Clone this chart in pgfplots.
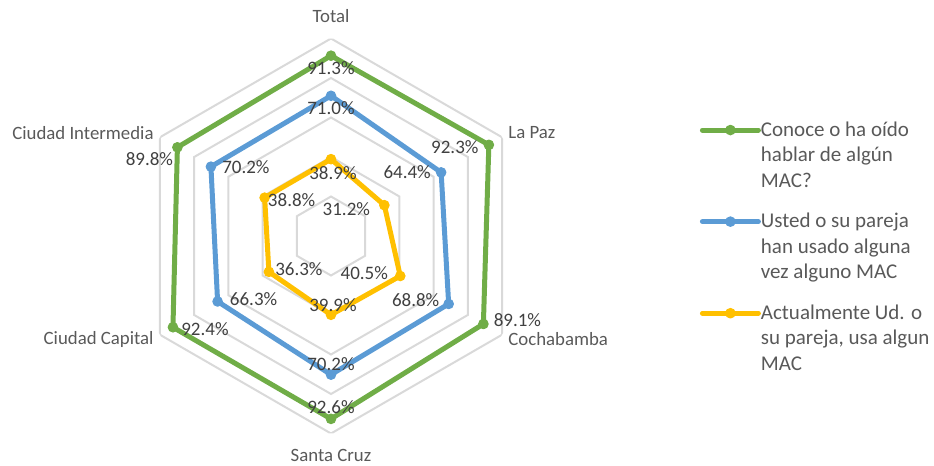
\documentclass[border=0pt]{standalone}
\usepackage{fontspec}
\setmainfont{Carlito}
\usepackage{pgfplots}
\usepackage{pgfplotstable}
\usepgfplotslibrary{polar}
\pgfplotsset{compat=1.18}

\definecolor{gridgray}{HTML}{D9D9D9}
\definecolor{txtgray}{HTML}{595959}
\definecolor{lblgray}{HTML}{404040}
\definecolor{cgreen}{HTML}{70AD47}
\definecolor{cblue}{HTML}{5B9BD5}
\definecolor{cyellow}{HTML}{FFC000}

% angle, value, label offset (pt)
\pgfplotstableread{
a r dx dy
90 91.3 0 -6
30 92.3 -17 -1
330 89.1 17 2
270 92.6 0 6
210 92.4 16 -1
150 89.8 -14 -6
}\conoce
\pgfplotstableread{
a r dx dy
90 71.0 0 -6
30 64.4 -17 0
330 68.8 -16.5 2
270 70.2 0 5.5
210 66.3 18 1
150 70.2 17.5 0
}\usado
\pgfplotstableread{
a r dx dy
90 38.9 1 -7
30 31.2 -19 -2
330 40.5 -18 1.5
270 39.9 1 5
210 36.3 15 1.5
150 38.8 13.5 -1
}\actual

\pgfplotsset{
  serie/.style={
    color=#1, line width=2.5pt, line join=round, line cap=round,
    mark=*, mark size=2.4pt, mark options={solid, line width=0.5pt},
    point meta=explicit,
    nodes near coords={\pgfmathprintnumber[fixed,fixed zerofill,precision=1]{\pgfplotspointmeta}\%},
    visualization depends on={\thisrow{dx} \as \dx},
    visualization depends on={\thisrow{dy} \as \dy},
    every node near coord/.append style={anchor=center, xshift=\dx pt, yshift=\dy pt,
      text=lblgray, font=\fontsize{9.5}{11}\selectfont, inner sep=0pt},
  },
  hexa/.style={gridgray, line width=1pt, no markers, forget plot},
}

\begin{document}
\begin{tikzpicture}
\begin{polaraxis}[
  scale only axis, width=197.5pt, height=197.5pt,
  ymin=0, ymax=100,
  xtick={30,90,150,210,270,330},
  xticklabels={La Paz,Total,Ciudad Intermedia,Ciudad Capital,Santa Cruz,Cochabamba},
  ytick=\empty,
  axis line style={draw=none},
  xmajorgrids=false, ymajorgrids=false,
  major tick length=0pt, tick style={draw=none},
  xticklabel style={font=\fontsize{9.4}{11}\selectfont, text=txtgray,
    inner xsep=3pt, inner ysep=3pt,
    /utils/exec={\pgfmathtruncatemacro\anc{mod(90*round((540+\tick)/90),360)}%
      \pgfmathsetmacro\ys{4.5*sin(\tick)}},
    anchor=\anc, yshift=\ys pt},
  /pgf/number format/assume math mode=true,
  legend cell align=left,
  legend style={at={(1.434,0.79)}, anchor=north west, draw=none, fill=none,
    inner sep=0pt, outer sep=0pt, row sep=11.5pt, column sep=0pt,
    font=\fontsize{10.5}{12.75}\selectfont, text=txtgray,
    cells={anchor=north west, align=left}, nodes={inner sep=0pt}},
  legend image code/.code={\draw[mark repeat=2,mark phase=2,#1]
    plot coordinates {(0pt,-4.3pt) (14pt,-4.3pt) (28pt,-4.3pt)};},
]
\addplot[hexa] coordinates {(90,20)(30,20)(330,20)(270,20)(210,20)(150,20)} -- cycle;
\addplot[hexa] coordinates {(90,40)(30,40)(330,40)(270,40)(210,40)(150,40)} -- cycle;
\addplot[hexa] coordinates {(90,60)(30,60)(330,60)(270,60)(210,60)(150,60)} -- cycle;
\addplot[hexa] coordinates {(90,80)(30,80)(330,80)(270,80)(210,80)(150,80)} -- cycle;
\addplot[hexa] coordinates {(90,100)(30,100)(330,100)(270,100)(210,100)(150,100)} -- cycle;

\addplot[serie=cgreen] table[x=a, y=r, meta=r] {\conoce} -- cycle;
\addlegendentry{Conoce o ha oído\\hablar de algún\\MAC?}
\addplot[serie=cblue] table[x=a, y=r, meta=r] {\usado} -- cycle;
\addlegendentry{Usted o su pareja\\han usado alguna\\vez alguno MAC}
\addplot[serie=cyellow] table[x=a, y=r, meta=r] {\actual} -- cycle;
\addlegendentry{Actualmente Ud. o\\su pareja, usa algun\\MAC}

\coordinate (c) at (axis cs:0,0);
\end{polaraxis}
\pgfresetboundingbox
\path (c) ++(-165.5pt,-115pt) rectangle ++(467pt,233pt);
\end{tikzpicture}
\end{document}
